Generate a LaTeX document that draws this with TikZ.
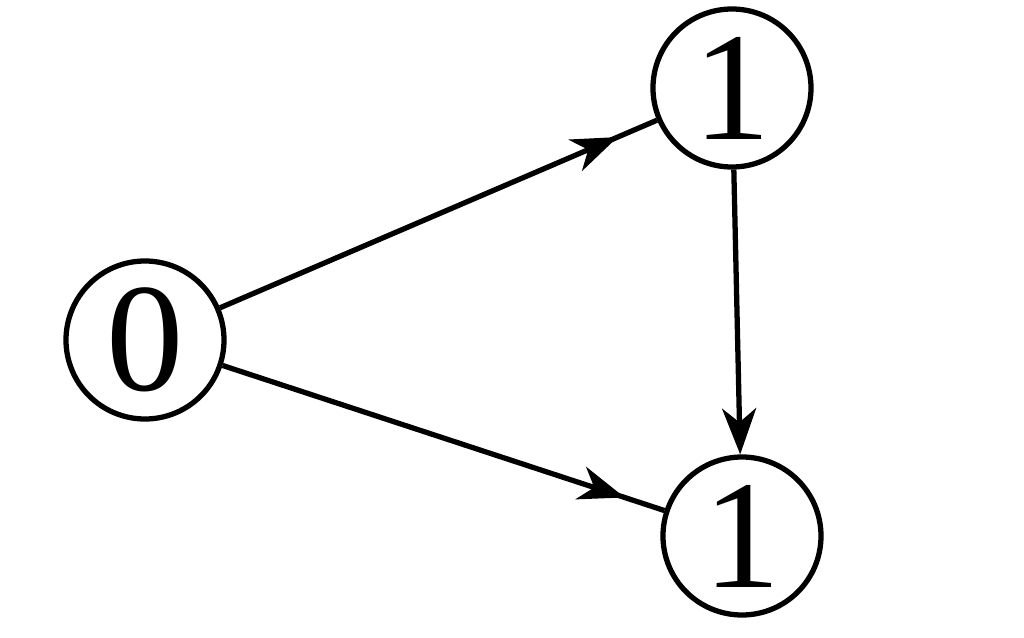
\documentclass[tikz,border=0pt]{standalone}
\usepackage{fontspec}
\setmainfont{Liberation Serif}
\usetikzlibrary{positioning,arrows.meta,decorations.markings}
\tikzset{
  state/.style={circle, draw=black, line width=1.5pt, minimum size=1.58cm,
                inner sep=0pt, font=\fontsize{44}{44}\selectfont},
  edge/.style={line width=1.5pt, draw=black},
  midtip/.style={edge, decoration={markings,
                 mark=at position #1 with {\arrow{Stealth[length=4.6mm,width=3.4mm,inset=1.4mm]}}},
                 postaction={decorate}},
  endtip/.style={edge, -{Stealth[length=4.6mm,width=3.4mm,inset=1.4mm]}}
}
\begin{document}
\begin{tikzpicture}
\useasboundingbox (0,0) rectangle (10.24,6.37);
\node[state] (zero) at (1.45,2.97) {0};
\node[state] (upper) at (7.32,5.49) {1};
\node[state] (lower) at (7.42,1.01) {1};
\draw[midtip=0.91] (zero) -- (upper);
\draw[midtip=0.91] (zero) -- (lower);
\draw[endtip] (upper) -- (lower);
\end{tikzpicture}
\end{document}
